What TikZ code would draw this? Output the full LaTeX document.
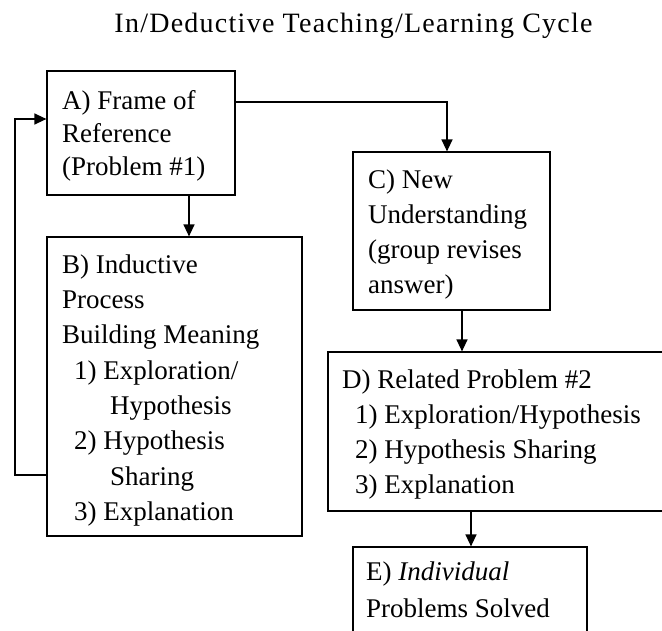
\documentclass[tikz,border=0pt]{standalone}
\usepackage{fontspec}
\setmainfont{Liberation Serif}
\newfontfamily\titlefont[LetterSpace=4.5]{Liberation Serif}
\usetikzlibrary{arrows.meta}
\begin{document}
\begin{tikzpicture}[x=1pt,y=-1pt,
  box/.style={draw=black, line width=1.2pt, rectangle, inner sep=0pt},
  txt/.style={anchor=north west, inner sep=0pt, align=left, font=\fontsize{27}{35}\selectfont},
  arr/.style={draw=black, line width=1.3pt, -{Triangle[width=11pt,length=12pt]}},
  plain/.style={draw=black, line width=1.3pt}
]
\useasboundingbox (0,0) rectangle (662,631);
\clip (0,0) rectangle (662,631);
\fill[white] (0,0) rectangle (662,631);

% title
\node[anchor=base, inner sep=0pt, font=\titlefont\fontsize{28}{34}\selectfont] (title) at (353.5,33) {In/Deductive Teaching/Learning Cycle};

% boxes
\node[box, minimum width=188pt, minimum height=124pt] (A) at (141,133) {};
\node[box, minimum width=255pt, minimum height=299pt] (B) at (174.5,386.5) {};
\node[box, minimum width=197pt, minimum height=158pt] (C) at (451.5,231) {};
\node[box, minimum width=362pt, minimum height=159pt] (D) at (509,431.5) {};
\node[box, minimum width=234pt, minimum height=113pt] (E) at (470,603.5) {};

% texts
\node[txt, font=\fontsize{27}{33}\selectfont] (Atext) at (62,85.9) {\strut A) Frame of\\Reference\\(Problem \#1)};
\node[txt, font=\fontsize{27}{35.3}\selectfont] (Btext) at (62,248.3) {\strut B) Inductive\\Process\\Building Meaning\\
\hspace*{12pt}1) Exploration/\\\hspace*{48pt}Hypothesis\\\hspace*{12pt}2) Hypothesis\\\hspace*{48pt}Sharing\\\hspace*{12pt}3) Explanation};
\node[txt] (Ctext) at (368,163.5) {\strut C) New\\Understanding\\(group revises\\answer)};
\node[txt] (Dtext) at (342,363.5) {\strut D) Related Problem \#2\\\hspace*{13pt}1) Exploration/Hypothesis\\\hspace*{13pt}2) Hypothesis Sharing\\\hspace*{13pt}3) Explanation};
\node[txt, font=\fontsize{27}{37}\selectfont] (Etext) at (366,554.1) {\strut E) \textit{Individual}\\Problems Solved};

% helper coordinates
\coordinate (ab) at (189,0);
\coordinate (ac) at (447,102);
\coordinate (cd) at (462,0);
\coordinate (de) at (471,0);
\coordinate (fb1) at (15,475);
\coordinate (fb2) at (15,119);

% connectors
\draw[arr] (A.south -| ab) -- (B.north -| ab);
\draw[arr] (A.east |- ac) -- (ac) -- (C.north -| ac);
\draw[arr] (C.south -| cd) -- (D.north -| cd);
\draw[arr] (D.south -| de) -- (E.north -| de);
\draw[arr] (B.west |- fb1) -- (fb1) -- (fb2) -- (A.west |- fb2);
\end{tikzpicture}
\end{document}
